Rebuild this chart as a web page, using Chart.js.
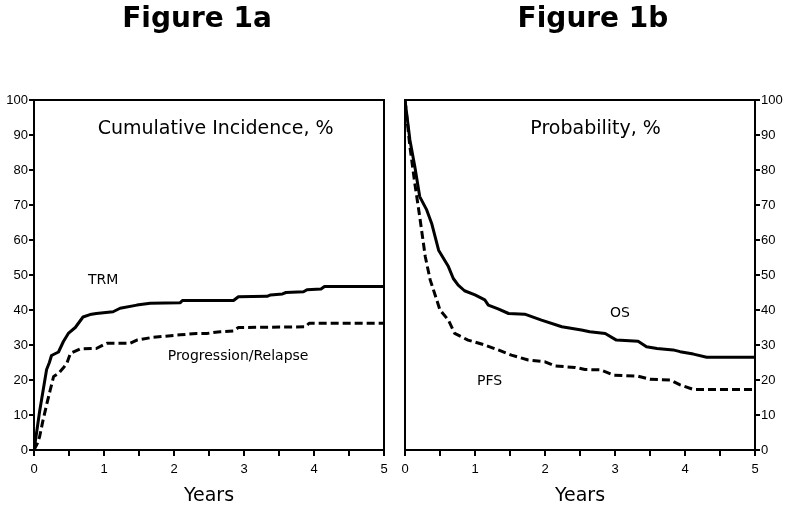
<!DOCTYPE html>
<html>
<head>
<meta charset="utf-8">
<script src="https://cdn.jsdelivr.net/npm/chart.js@4"></script>
<style>
  body { margin: 0; background: #fff; }
  canvas { position: absolute; top: 0; }
  #chartA { left: 0; }
  #chartB { left: 395px; }
</style>
</head>
<body>
<canvas id="chartA" width="395" height="510"></canvas>
<canvas id="chartB" width="396" height="510"></canvas>
<script>
// Figure 1a: cumulative incidence (%)
const trmYears = [0, 0.03, 0.08, 0.13, 0.18, 0.22, 0.25, 0.35, 0.42, 0.49, 0.59, 0.70, 0.80, 0.89, 1.13, 1.23, 1.47, 1.66, 2.09, 2.12, 2.85, 2.92, 3.33, 3.38, 3.55, 3.60, 3.85, 3.90, 4.10, 4.15, 5];
const trmPct = [0, 4, 11, 17, 23, 25, 27, 28, 31, 33.3, 35, 38, 38.7, 39, 39.5, 40.5, 41.4, 41.9, 42.1, 42.7, 42.7, 43.8, 43.9, 44.3, 44.6, 45, 45.2, 45.8, 46, 46.7, 46.7];

const relapseYears = [0, 0.05, 0.08, 0.13, 0.18, 0.23, 0.28, 0.35, 0.42, 0.47, 0.52, 0.66, 0.89, 1.04, 1.37, 1.47, 1.70, 2.09, 2.32, 2.47, 2.66, 2.85, 2.92, 3.88, 3.93, 5];
const relapsePct = [0, 2, 3.8, 8.6, 12.9, 17, 21, 21.9, 23.5, 24.8, 27.6, 28.9, 29, 30.5, 30.5, 31.4, 32.2, 32.9, 33.3, 33.3, 33.8, 34, 35, 35.2, 36.2, 36.2];

// Figure 1b: probability (%)
const osYears = [0, 0.07, 0.14, 0.21, 0.31, 0.38, 0.48, 0.62, 0.69, 0.76, 0.85, 1.00, 1.14, 1.19, 1.33, 1.48, 1.71, 1.95, 2.24, 2.52, 2.64, 2.86, 3.02, 3.33, 3.45, 3.60, 3.83, 3.93, 4.12, 4.31, 5];
const osPct = [100, 88.6, 81, 72.4, 68.6, 64.8, 57.1, 52.4, 49, 47.1, 45.5, 44.3, 42.9, 41.4, 40.3, 39, 38.8, 37.1, 35.2, 34.3, 33.8, 33.3, 31.4, 31.1, 29.5, 29, 28.6, 28.1, 27.4, 26.5, 26.5];

const pfsYears = [0, 0.07, 0.14, 0.21, 0.29, 0.36, 0.50, 0.62, 0.71, 0.90, 1.14, 1.33, 1.52, 1.76, 2.00, 2.14, 2.43, 2.57, 2.79, 2.98, 3.33, 3.50, 3.79, 3.93, 4.12, 5];
const pfsPct = [100, 86.7, 76.2, 66.7, 55.2, 48.6, 40, 37.1, 33.3, 31.4, 30, 28.6, 27.1, 25.7, 25.2, 24, 23.6, 23.0, 22.9, 21.4, 21.1, 20.2, 20, 18.6, 17.3, 17.3];

// axis ticks (labels only on whole years)
const yearTicks = [0, 0.5, 1, 1.5, 2, 2.5, 3, 3.5, 4, 4.5, 5];
const pctTicks = [0, 10, 20, 30, 40, 50, 60, 70, 80, 90, 100];

function toPoints(xs, ys) {
    return xs.map((x, i) => ({ x: x, y: ys[i] }));
}

// draws the frame, figure title and the in-plot labels
const textPlugin = {
    id: 'texts',
    afterDraw(chart, args, opts) {
        const ctx = chart.ctx;
        const area = chart.chartArea;
        const xs = chart.scales.x, ys = chart.scales.y;
        ctx.save();
        ctx.strokeStyle = '#000';
        ctx.lineWidth = 2;
        ctx.strokeRect(area.left, area.top, area.right - area.left, area.bottom - area.top);

        ctx.fillStyle = '#000';
        ctx.textAlign = 'center';
        ctx.textBaseline = 'alphabetic';
        ctx.font = 'bold 28px "DejaVu Sans"';
        ctx.fillText(opts.title, opts.titleX, 27);

        ctx.textAlign = 'left';
        ctx.textBaseline = 'middle';
        opts.labels.forEach(l => {
            ctx.font = l.size + 'px "DejaVu Sans"';
            ctx.fillText(l.text, xs.getPixelForValue(l.x), ys.getPixelForValue(l.y));
        });
        ctx.restore();
    }
};

function makeChart(id, datasets, side, texts) {
    const tickFont = { family: '"Liberation Sans", Arial', size: 13 };
    new Chart(document.getElementById(id), {
        type: 'line',
        data: { datasets: datasets },
        options: {
            responsive: false,
            animation: false,
            layout: {
                padding: side === 'left'
                    ? { top: 100, right: 11, left: 0, bottom: 0 }
                    : { top: 100, right: 0, left: 10, bottom: 0 }
            },
            plugins: {
                legend: { display: false },
                tooltip: { enabled: false },
                texts: texts
            },
            scales: {
                x: {
                    type: 'linear',
                    min: yearTicks[0],
                    max: yearTicks[yearTicks.length - 1],
                    afterBuildTicks: s => { s.ticks = yearTicks.map(v => ({ value: v })); },
                    afterFit: s => { s.height = 60; },
                    border: { color: '#000', width: 2 },
                    grid: { drawOnChartArea: false, color: '#000', lineWidth: 2, tickLength: 6 },
                    ticks: {
                        color: '#000',
                        font: tickFont,
                        padding: 6,
                        maxRotation: 0,
                        autoSkip: false,
                        callback: v => Number.isInteger(v) ? String(v) : ''
                    },
                    title: {
                        display: true,
                        text: 'Years',
                        color: '#000',
                        font: { family: '"DejaVu Sans"', size: 19 },
                        padding: { top: 0, bottom: 3 }
                    }
                },
                y: {
                    position: side,
                    min: pctTicks[0],
                    max: pctTicks[pctTicks.length - 1],
                    afterBuildTicks: s => { s.ticks = pctTicks.map(v => ({ value: v })); },
                    afterFit: s => { s.width = side === 'left' ? 34 : 36; },
                    border: { color: '#000', width: 2 },
                    grid: { drawOnChartArea: false, color: '#000', lineWidth: 2, tickLength: 5 },
                    ticks: { color: '#000', font: tickFont, padding: 1, autoSkip: false }
                }
            }
        },
        plugins: [textPlugin]
    });
}

const solid = { borderColor: '#000', borderWidth: 3, pointRadius: 0, fill: false, tension: 0, borderJoinStyle: 'round' };
const dashed = Object.assign({}, solid, { borderDash: [8, 4], borderCapStyle: 'butt' });

makeChart('chartA', [
    Object.assign({ label: 'TRM', data: toPoints(trmYears, trmPct) }, solid),
    Object.assign({ label: 'Progression/Relapse', data: toPoints(relapseYears, relapsePct) }, dashed)
], 'left', {
    title: 'Figure 1a',
    titleX: 197,
    labels: [
        { text: 'Cumulative Incidence, %', x: 0.91, y: 91.7, size: 19 },
        { text: 'TRM', x: 0.77, y: 48.6, size: 14 },
        { text: 'Progression/Relapse', x: 1.91, y: 26.7, size: 14 }
    ]
});

makeChart('chartB', [
    Object.assign({ label: 'OS', data: toPoints(osYears, osPct) }, solid),
    Object.assign({ label: 'PFS', data: toPoints(pfsYears, pfsPct) }, dashed)
], 'right', {
    title: 'Figure 1b',
    titleX: 198,
    labels: [
        { text: 'Probability, %', x: 1.79, y: 91.7, size: 19 },
        { text: 'OS', x: 2.93, y: 38.9, size: 14 },
        { text: 'PFS', x: 1.03, y: 19.7, size: 14 }
    ]
});
</script>
</body>
</html>
